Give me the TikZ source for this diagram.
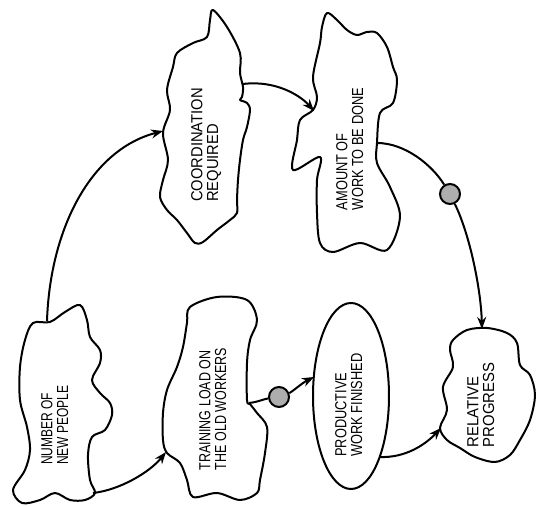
\documentclass[tikz,border=0pt]{standalone}
\usepackage{fontspec}
\usepackage{graphicx}
\setmainfont{Liberation Sans}
\usetikzlibrary{arrows.meta,shapes.geometric}
\newcommand{\twolines}[3]{\scalebox{#1}[1]{\begin{tabular}{@{}l@{}}#2\\#3\end{tabular}}}
\begin{document}
\begin{tikzpicture}[x=0.5pt,y=-0.5pt,
  blob/.style={draw, line width=1pt, line join=round},
  conn/.style={line width=1pt, -{Stealth[length=6pt,width=4.5pt]}},
  plain/.style={line width=1pt},
  lbl/.style={rotate=90, inner sep=0pt, font=\fontsize{8}{7.6}\selectfont},
  gdot/.style={circle, draw, line width=1pt, fill=black!32, minimum size=10pt, inner sep=0pt},
  pwell/.style={ellipse, draw, line width=1pt, rotate=90, minimum width=93pt, minimum height=38pt, inner sep=0pt}
]
\useasboundingbox (0,0) rectangle (537,507);

% Number of new people
\draw[blob] plot[smooth cycle, tension=0.55] coordinates {
 (33,323) (50,322) (65,312) (80,305) (87,320) (90,337) (100,350) (100,363) (92,380)
 (100,393) (110,403) (112,415) (105,430) (92,437) (88,455) (90,480) (95,493)
 (85,500) (70,500) (55,493) (40,500) (22,503) (13,490) (25,470) (30,450)
 (27,427) (20,400) (20,367) (25,340)};
% Training load
\draw[blob] plot[smooth cycle, tension=0.55] coordinates {
 (190,307) (217,297) (247,300) (257,320) (250,340) (247,363) (247,400) (250,404)
 (257,413) (267,427) (265,453) (260,480) (257,493) (240,500) (217,493) (193,497)
 (187,480) (180,463) (167,453) (163,440) (163,413) (167,390) (177,367) (183,347) (187,323)};
% Coordination required
\draw[blob] plot[smooth cycle, tension=0.55] coordinates {
 (213,10) (227,27) (240,53) (240,73) (243,87) (242,97) (240,100) (247,103) (250,110)
 (247,127) (243,140) (240,160) (238,180) (237,200) (237,213) (230,220) (217,230)
 (203,242) (195,243) (187,233) (177,220) (167,210) (160,197) (163,180) (168,160)
 (163,133) (170,110) (167,90) (173,67) (177,53) (193,43) (207,37) (210,20)};
% Amount of work
\draw[blob] plot[smooth cycle, tension=0.55] coordinates {
 (327,13) (337,20) (347,30) (357,35) (367,32) (377,33) (387,47) (393,67) (397,80)
 (393,103) (380,113) (377,143) (377,163) (390,187) (400,217) (387,250) (360,243)
 (333,252) (320,243) (317,213) (317,180) (320,157) (293,170) (297,140) (300,120)
 (313,110) (317,97) (313,77) (320,43) (322,27)};
% Relative progress
\draw[blob] plot[smooth cycle, tension=0.55] coordinates {
 (453,340) (467,330) (487,328) (507,333) (517,343) (520,365) (530,375) (535,395)
 (530,420) (520,440) (510,455) (495,462) (475,457) (460,448) (447,440) (440,428)
 (447,410) (443,387) (453,367) (450,350)};
% Productive work finished
\node[pwell] (pw) at (351,396) {};

% labels
\node[lbl] (t1) at (57,425) {\twolines{0.75}{NUMBER OF}{NEW PEOPLE}};
\node[lbl] (t2) at (215,409) {\twolines{0.78}{TRAINING LOAD ON}{THE OLD WORKERS}};
\node[lbl] (t3) at (351,405) {\twolines{0.8}{PRODUCTIVE}{WORK FINISHED}};
\node[lbl] (t4) at (483,405) {\twolines{0.93}{RELATIVE}{PROGRESS}};
\node[lbl] (t5) at (207,145) {\twolines{0.92}{COORDINATION}{REQUIRED}};
\node[lbl] (t6) at (352,149) {\twolines{0.8}{AMOUNT OF}{WORK TO BE DONE}};

% attachment points
\coordinate (n1t) at (47,321);
\coordinate (n1b) at (93,493);
\coordinate (trl) at (166,452);
\coordinate (trr) at (249,403);
\coordinate (crl) at (163,131);
\coordinate (crr) at (243,84);
\coordinate (awl) at (314,111);
\coordinate (awr) at (377,143);
\coordinate (rpt) at (482,329);
\coordinate (rpl) at (441,428);
\coordinate (pwl) at (314,377);
\coordinate (pwr) at (380,457);

\node[gdot] (d1) at (279,397) {};
\node[gdot] (d2) at (450,194) {};

\draw[conn] (n1t) .. controls (50,230) and (90,150) .. (crl);
\draw[conn] (n1b) .. controls (120,490) and (150,472) .. (trl);
\draw[plain] (trr) .. controls (258,402) and (264,399) .. (d1);
\draw[conn] (d1) .. controls (292,392) and (302,383) .. (pwl);
\draw[conn] (pwr) .. controls (405,458) and (425,445) .. (rpl);
\draw[conn] (crr) .. controls (275,80) and (300,95) .. (awl);
\draw[plain] (awr) .. controls (405,143) and (432,165) .. (d2);
\draw[conn] (d2) .. controls (470,235) and (481,290) .. (rpt);
\end{tikzpicture}
\end{document}
